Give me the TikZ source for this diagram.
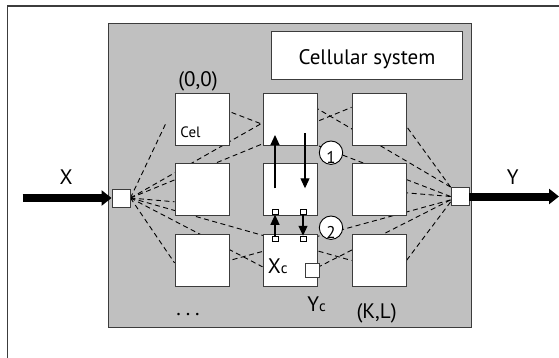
\documentclass[tikz,border=0pt]{standalone}
\usepackage{fontspec}
\setmainfont{PT Sans}
\usetikzlibrary{arrows.meta, calc, positioning}
\definecolor{cellgray}{RGB}{192,192,192}
\definecolor{rimgray}{RGB}{60,60,60}
\pgfdeclarelayer{back}
\pgfdeclarelayer{wires}
\pgfsetlayers{back,wires,main}
\tikzset{
  cellbox/.style={draw=rimgray, fill=white, line width=0.9pt, minimum width=54pt, minimum height=52pt, inner sep=0pt},
  portbox/.style={draw=rimgray, fill=white, line width=0.9pt, minimum width=18pt, minimum height=18pt, inner sep=0pt},
  ycbox/.style={draw=rimgray, fill=white, line width=0.9pt, minimum size=14pt, inner sep=0pt},
  padbox/.style={draw=black, fill=white, line width=0.7pt, minimum width=6pt, minimum height=5.5pt, inner sep=0pt},
  titlebox/.style={draw=rimgray, fill=white, line width=1pt, minimum width=190.7pt, minimum height=47.7pt, inner sep=0pt, text height=19.6pt, text depth=0pt},
  tagcircle/.style={circle, draw=black, fill=white, line width=0.9pt, minimum size=23.4pt, inner sep=0pt, font=\fontsize{17}{17}\selectfont},
  link/.style={dash pattern=on 5pt off 3.5pt, line width=0.9pt},
  flow/.style={line width=1.1pt, -{Triangle[length=10pt,width=9pt]}},
  feed/.style={line width=8pt, -{Triangle[length=10pt,width=15pt]}},
  lbl/.style={font=\fontsize{21}{24}\selectfont, inner sep=0pt},
  cellfont/.style={font=\fontsize{15}{17}\selectfont, inner sep=0pt}
}

\begin{document}
\begin{tikzpicture}[x=1pt, y=-1pt]
    \useasboundingbox (0,0) rectangle (559,358);

    % outer frame and grey block
    \draw[line width=1.2pt, rimgray] (7.8,358) -- (7.8,6) -- (559,6);
    \begin{pgfonlayer}{back}
    \draw[draw=rimgray, fill=cellgray, line width=1pt] (108.7,24) rectangle (471.5,327.3);
    \end{pgfonlayer}

    \node[titlebox, lbl] (title) at (367,55.2) {Cellular system};

    % cells
    \node[cellbox] (c11) at (202,119) {};
    \node[cellbox] (c12) at (290,119) {};
    \node[cellbox] (c13) at (379,119) {};
    \node[cellbox] (c21) at (202,189) {};
    \node[cellbox] (c22) at (290,189) {};
    \node[cellbox] (c23) at (379,189) {};
    \node[cellbox] (c31) at (202,260.5) {};
    \node[cellbox] (c32) at (290,260.5) {};
    \node[cellbox] (c33) at (379,260.5) {};
    \node[cellfont] (cel) at (190.5,132.5) {Cel};

    % ports
    \node[portbox] (in) at (121,198) {};
    \node[portbox] (out) at (460,196.5) {};
    \node[ycbox] (yc) at ($(c32.east)+(-5,9.5)$) {};
    \node[padbox, anchor=south] (p21) at ($(c22.south)+(-15,-0.7)$) {};
    \node[padbox, anchor=south] (p22) at ($(c22.south)+(13,-0.7)$) {};
    \node[padbox, anchor=north] (p31) at ($(c32.north)+(-15,1.7)$) {};
    \node[padbox, anchor=north] (p32) at ($(c32.north)+(13,1.7)$) {};

    \node[tagcircle] (circ1) at (331,152.7) {\smash{\raisebox{-11pt}{1}}};
    \node[tagcircle] (circ2) at (331,227.7) {\smash{\raisebox{-11pt}{2}}};

    % dashed links
    \begin{pgfonlayer}{wires}
    \path[link] (in.east) edge[shorten >=18pt] (c11.153)
        edge (c12.188) edge (c13.157) edge (c21.205)
        edge (c31.185) edge (c32.193) edge (c33.west);
    \path[link] (out.north west) edge (c13.-15) edge (c12.north)
        (out.west) edge (c11.15) edge (c23.-8)
        (out.200) edge (c31.east) edge (yc)
        (out.210) edge (c33.east);
    \end{pgfonlayer}

    % data exchange
    \draw[flow] ($(c22.center)+(-15,-0.7)$) -- ($(c12.center)+(-15,16)$);
    \draw[flow] ($(c12.center)+(15,14.3)$) -- ($(c22.center)+(15,-0.7)$);
    \draw[flow] (p31) -- (p21);
    \draw[flow] (p22) -- (p32);

    % input and output
    \coordinate (xsrc) at (22.7,198);
    \coordinate (ysnk) at (559,196.5);
    \draw[feed] (xsrc) -- (in.west);
    \draw[feed] (out.east) -- (ysnk);

    % labels
    \node[lbl] (xlab) at (66.2,176.7) {X};
    \node[lbl] (ylab) at (512.7,176.7) {Y};
    \node[lbl] (orig) at (198,81) {(0,0)};
    \node[lbl] (last) at (376.6,313) {(K,L)};
    \node[lbl, anchor=base] (dots) at (188,315) {.\hspace{5pt}.\hspace{5pt}.};
    \node[lbl, anchor=base] (xclab) at (277.7,273) {X{\fontsize{15}{15}\selectfont c}};
    \node[lbl, anchor=base] (yclab) at (316.6,311.7) {Y{\fontsize{15}{15}\selectfont c}};
\end{tikzpicture}
\end{document}
